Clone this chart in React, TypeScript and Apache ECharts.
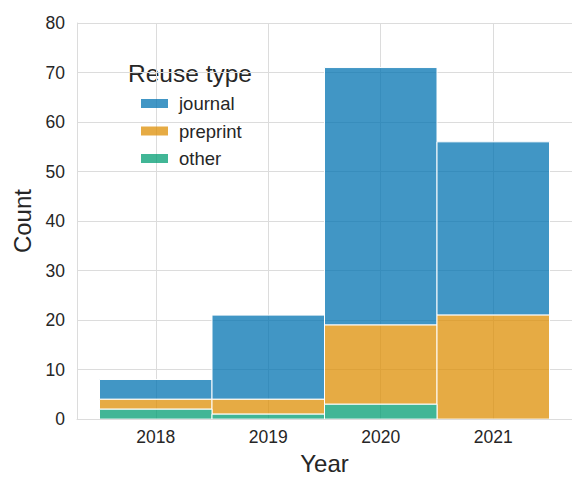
import React, { useEffect, useRef } from "react";
import * as echarts from "echarts";

const years = [2018, 2019, 2020, 2021];
const seriesNames = ["journal", "preprint", "other"];
const journal = [4, 17, 52, 35];
const preprint = [2, 3, 16, 21];
const other = [2, 1, 3, 0];
const yTicks = [0, 10, 20, 30, 40, 50, 60, 70, 80];

const colors = ["rgba(1,115,178,0.75)", "rgba(222,143,5,0.75)", "rgba(2,158,115,0.75)"];
const FONT = "Liberation Sans, Arial, sans-serif";
const TXT = "#262626";

export default function App() {
  const ref = useRef<HTMLDivElement>(null);
  useEffect(() => {
    if (!ref.current) return;
    document.body.style.margin = "0";
    document.body.style.overflow = "hidden";
    const chart = echarts.init(ref.current, undefined, { renderer: "svg" });
    // stack bottom-up: other, preprint, journal
    const order = [other, preprint, journal];
    const orderNames = ["other", "preprint", "journal"];
    const bases = years.map(() => 0);
    const stacked: Record<string, number[][]> = {};
    order.forEach((vals, si) => {
      stacked[orderNames[si]] = years.map((y, i) => {
        const b = bases[i];
        bases[i] += vals[i];
        return [y, b, b + vals[i]];
      });
    });
    const renderItem = (params: any, api: any) => {
      const x = api.value(0);
      const lo = api.value(1);
      const hi = api.value(2);
      if (hi - lo <= 0) return null;
      const p0 = api.coord([x - 0.5, hi]);
      const p1 = api.coord([x + 0.5, lo]);
      return {
        type: "rect",
        shape: { x: p0[0], y: p0[1], width: p1[0] - p0[0], height: p1[1] - p0[1] },
        style: { fill: api.visual("color"), stroke: "#ffffff", lineWidth: 1 },
      };
    };
    const series = seriesNames.map((name, i) => ({
      name,
      type: "custom",
      renderItem,
      clip: true,
      itemStyle: { color: colors[i] },
      encode: { x: 0, y: [1, 2] },
      data: stacked[name],
    }));
    chart.setOption({
      animation: false,
      textStyle: { fontFamily: FONT },
      grid: { left: 77, width: 503, top: 23, height: 399, containLabel: false },
      xAxis: {
        type: "value",
        min: 2017.3,
        max: 2021.7,
        name: "Year",
        nameLocation: "middle",
        nameGap: 28,
        nameTextStyle: { fontSize: 24, color: TXT, fontFamily: FONT },
        axisLine: { show: true, lineStyle: { color: "#dcdcdc", width: 1 } },
        axisTick: { show: false, customValues: years },
        axisLabel: {
          customValues: years,
          fontSize: 17.5,
          color: TXT,
          fontFamily: FONT,
          margin: 9,
          formatter: (v: number) => String(v),
        },
        splitLine: { show: true, lineStyle: { color: "#dcdcdc", width: 1 } },
      },
      yAxis: {
        type: "value",
        min: 0,
        max: 80,
        interval: 10,
        name: "Count",
        nameLocation: "middle",
        nameGap: 43,
        nameTextStyle: { fontSize: 24, color: TXT, fontFamily: FONT },
        axisLine: { show: true, lineStyle: { color: "#dcdcdc", width: 1 } },
        axisTick: { show: false },
        axisLabel: {
          fontSize: 17.5,
          color: TXT,
          fontFamily: FONT,
          margin: 12,
          formatter: (v: number) => (yTicks.includes(v) ? String(v) : ""),
        },
        splitLine: { show: true, lineStyle: { color: "#dcdcdc", width: 1 } },
      },
      legend: {
        data: seriesNames,
        orient: "vertical",
        left: 141,
        top: 94,
        padding: 0,
        itemWidth: 27,
        itemHeight: 9,
        itemGap: 8.5,
        icon: "rect",
        selectedMode: false,
        textStyle: {
          fontSize: 18.5,
          lineHeight: 18,
          color: TXT,
          fontFamily: FONT,
          padding: [0, 0, 0, 6],
        },
      },
      graphic: [
        {
          type: "text",
          left: 128,
          top: 61,
          style: { text: "Reuse type", fontSize: 24.5, fill: TXT, fontFamily: FONT },
        },
      ],
      series,
    });
    return () => chart.dispose();
  }, []);
  return (
    <div
      ref={ref}
      style={{
        position: "fixed",
        left: 0,
        top: 0,
        width: 572,
        height: 480,
        overflow: "hidden",
        background: "#fff",
      }}
    />
  );
}
